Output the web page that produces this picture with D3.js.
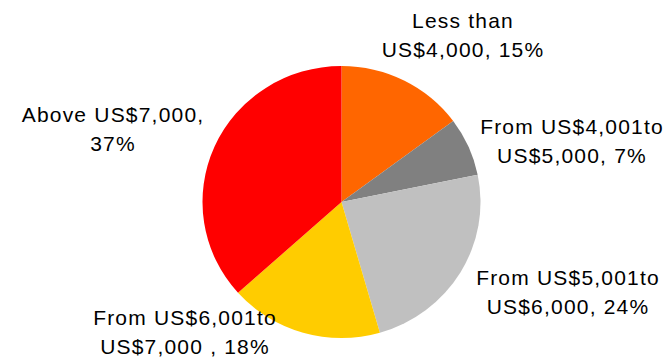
<!DOCTYPE html>
<html>
<head>
<meta charset="utf-8">
<script src="https://cdn.jsdelivr.net/npm/d3@7"></script>
<style>
  html, body { margin: 0; padding: 0; background: #fff; }
  svg { display: block; }
  text { font-family: "Liberation Sans", Arial, sans-serif; fill: #000; }
</style>
</head>
<body>
<svg id="chart" width="669" height="360"></svg>
<script>
// Income bands and their shares (%)
const categories = [
  "Less than US$4,000",
  "From US$4,001 to US$5,000",
  "From US$5,001 to US$6,000",
  "From US$6,001 to US$7,000",
  "Above US$7,000"
];
const shares = [15, 7, 24, 18, 37];
const colors = ["#FF6600", "#808080", "#C0C0C0", "#FFCC00", "#FF0000"];
// Label lines (first line, second line ending with share)
const labelLines = [
  ["Less than", "US$4,000, 15%"],
  ["From US$4,001to", "US$5,000, 7%"],
  ["From US$5,001to", "US$6,000, 24%"],
  ["From US$6,001to", "US$7,000 , 18%"],
  ["Above US$7,000,", "37%"]
];

const svg = d3.select("#chart");
const cx = 341.5, cy = 202, radius = 139, squash = 136 / 139;

const data = categories.map((c, i) => ({ name: c, value: shares[i], color: colors[i], lines: labelLines[i] }));

const pie = d3.pie().sort(null).value(d => d.value);
const arc = d3.arc().innerRadius(0).outerRadius(radius);
const arcs = pie(data);

const g = svg.append("g").attr("transform", `translate(${cx},${cy}) scale(1,${squash})`);
g.selectAll("path")
  .data(arcs)
  .join("path")
  .attr("d", arc)
  .attr("fill", d => d.data.color);

// Label anchors (centre x, first baseline) placed around the pie
const labelPos = [
  { x: 463, y: 28 },
  { x: 572, y: 134 },
  { x: 568, y: 285 },
  { x: 185, y: 325 },
  { x: 113, y: 122 }
];
const lineGap = 29;

svg.selectAll("g.label")
  .data(arcs)
  .join("g")
  .attr("class", "label")
  .each(function(d, i) {
    const p = labelPos[i];
    const t = d3.select(this).append("text")
      .attr("text-anchor", "middle")
      .attr("font-size", 21)
      .attr("letter-spacing", 1.2);
    d.data.lines.forEach((ln, k) => {
      t.append("tspan")
        .attr("x", p.x)
        .attr("y", p.y + k * lineGap)
        .text(ln);
    });
  });
</script>
</body>
</html>
